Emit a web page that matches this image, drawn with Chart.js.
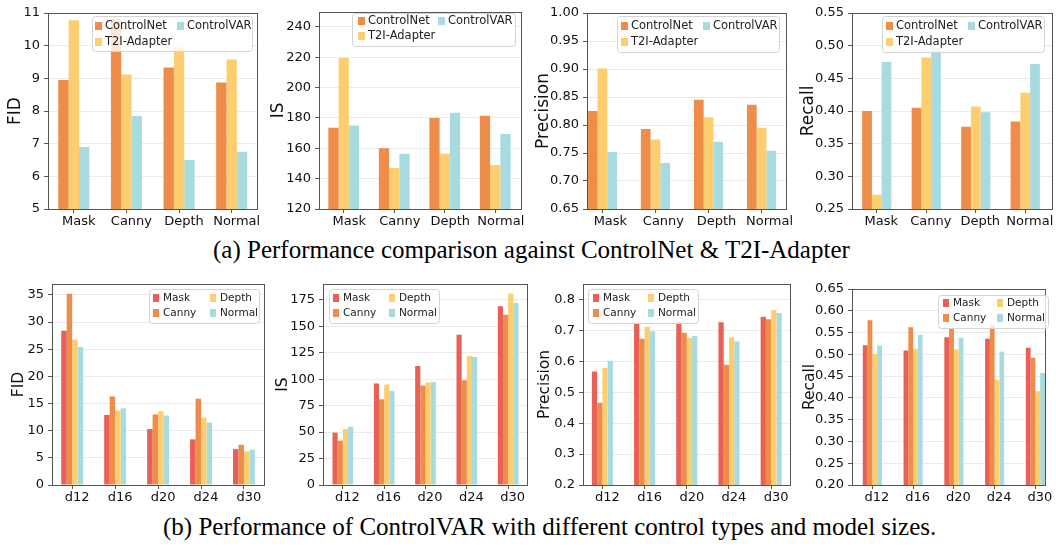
<!DOCTYPE html>
<html>
<head>
<meta charset="utf-8">
<script src="https://cdn.jsdelivr.net/npm/chart.js@4.4.1/dist/chart.umd.min.js"></script>
<style>
  body { margin: 0; width: 1056px; height: 548px; background: #fff; position: relative; overflow: hidden; }
  .cap { position: absolute; font-family: "Liberation Serif", "Times New Roman", serif; font-size: 25px; color: #000; white-space: nowrap; line-height: 25px; }
</style>
</head>
<body>
<div class="cap" style="left:213px; top:237px;">(a) Performance comparison against ControlNet &amp; T2I-Adapter</div>
<div class="cap" style="left:163px; top:514px;">(b) Performance of ControlVAR with different control types and model sizes.</div>

<script>
// categories
var controlTypes = ["Mask", "Canny", "Depth", "Normal"];
var methods = ["ControlNet", "T2I-Adapter", "ControlVAR"];
var modelSizes = ["d12", "d16", "d20", "d24", "d30"];

// (a) comparison against ControlNet / T2I-Adapter, one value per control type
var fidControlNet = [8.95, 10.82, 9.33, 8.87];
var fidT2I = [10.78, 9.12, 9.95, 9.58];
var fidControlVAR = [6.9, 7.85, 6.5, 6.75];

var isControlNet = [173.5, 160, 180, 181.5];
var isT2I = [219.5, 147, 156.5, 149];
var isControlVAR = [175, 156.5, 183.5, 169.5];

var precControlNet = [0.825, 0.793, 0.845, 0.836];
var precT2I = [0.901, 0.774, 0.814, 0.795];
var precControlVAR = [0.752, 0.732, 0.770, 0.754];

var recControlNet = [0.400, 0.405, 0.376, 0.384];
var recT2I = [0.272, 0.482, 0.407, 0.428];
var recControlVAR = [0.475, 0.497, 0.398, 0.472];

// (b) ControlVAR per control type, one value per model size
var fidMask = [28.4, 12.9, 10.3, 8.4, 6.6];
var fidCanny = [35.2, 16.3, 13.0, 15.9, 7.4];
var fidDepth = [26.8, 13.7, 13.6, 12.4, 6.2];
var fidNormal = [25.4, 14.1, 12.8, 11.5, 6.5];

var isMask = [49.5, 96, 112.5, 142, 169];
var isCanny = [42, 81, 94, 99, 161];
var isDepth = [53, 95, 97, 122, 181];
var isNormal = [55, 89, 97.5, 121, 172];

var precMask = [0.567, 0.725, 0.728, 0.726, 0.744];
var precCanny = [0.466, 0.673, 0.692, 0.589, 0.736];
var precDepth = [0.578, 0.712, 0.675, 0.678, 0.766];
var precNormal = [0.602, 0.697, 0.682, 0.664, 0.756];

var recMask = [0.521, 0.509, 0.539, 0.536, 0.515];
var recCanny = [0.578, 0.562, 0.560, 0.568, 0.492];
var recDepth = [0.501, 0.512, 0.511, 0.441, 0.415];
var recNormal = [0.520, 0.545, 0.538, 0.506, 0.457];

var RED = 'rgb(232,97,86)';
var ORANGE = 'rgb(238,140,74)';
var YELLOW = 'rgb(253,206,112)';
var TEAL = 'rgb(168,219,223)';

// matplotlib-like frame + legend box drawn on top of bars
var frameLegend = {
  id: 'frameLegend',
  afterDraw: function (chart, args, opts) {
    var ctx = chart.ctx, a = chart.chartArea;
    ctx.save();
    ctx.strokeStyle = '#555';
    ctx.lineWidth = 1;
    ctx.strokeRect(Math.round(a.left) + 0.5, Math.round(a.top) + 0.5,
      Math.round(a.right - a.left) - 1, Math.round(a.bottom - a.top));

    var lg = opts.legend, ox = opts.originX, oy = opts.originY, b = lg.box;
    ctx.beginPath();
    ctx.roundRect(b[0] - ox + 0.5, b[1] - oy + 0.5, b[2], b[3], 3);
    ctx.fillStyle = 'rgba(255,255,255,0.8)';
    ctx.fill();
    ctx.strokeStyle = '#d4d4d4';
    ctx.stroke();
    ctx.font = lg.size + 'px "DejaVu Sans"';
    ctx.textBaseline = 'middle';
    chart.data.datasets.forEach(function (ds, i) {
      var col = Math.floor(i / 2), row = i % 2;
      var x = lg.cols[col] - ox, y = lg.rows[row] - oy;
      ctx.fillStyle = ds.backgroundColor;
      ctx.fillRect(x, y - lg.sh / 2, lg.sw, lg.sh);
      ctx.fillStyle = '#222';
      ctx.fillText(ds.label, x + lg.tdx, y);
    });
    ctx.restore();
  }
};

function barChart(c) {
  var div = document.createElement('div');
  div.style.cssText = 'position:absolute;left:' + c.boxL + 'px;top:' + c.boxT + 'px;width:' +
    (c.boxR - c.boxL) + 'px;height:' + (c.boxB - c.boxT) + 'px';
  var canvas = document.createElement('canvas');
  div.appendChild(canvas);
  document.body.appendChild(div);

  var yw = c.plot[0] - c.boxL;
  var xh = c.boxB - c.plot[3];
  var lh = Math.round(c.titleSize * 1.2);

  new Chart(canvas, {
    type: 'bar',
    data: {
      labels: c.labels,
      datasets: c.series.map(function (s, i) {
        return { label: c.names[i], data: s, backgroundColor: c.colors[i], borderWidth: 0,
          categoryPercentage: c.catPct, barPercentage: 1 };
      })
    },
    options: {
      responsive: true,
      maintainAspectRatio: false,
      animation: false,
      devicePixelRatio: 1,
      layout: { padding: { top: c.plot[1] - c.boxT, right: c.boxR - c.plot[2], left: 0, bottom: 0 } },
      plugins: {
        legend: { display: false },
        tooltip: { enabled: false },
        frameLegend: { legend: c.legend, originX: c.boxL, originY: c.boxT }
      },
      scales: {
        x: {
          offset: true,
          grid: { display: true, drawOnChartArea: false, offset: false, tickLength: 4, tickColor: '#555' },
          border: { display: false },
          ticks: { color: '#111', font: { family: 'DejaVu Sans', size: 13 }, padding: 1,
            maxRotation: 0, autoSkip: false, labelOffset: c.labelOffset },
          afterBuildTicks: function (s) {
            s._startValue = c.xRange[0];
            s._valueRange = c.xRange[1] - c.xRange[0];
          },
          afterFit: function (s) { s.height = xh; }
        },
        y: {
          min: c.yMin,
          max: c.yMax,
          grid: { color: '#ebebeb', tickLength: 4, tickColor: '#555' },
          border: { display: false },
          ticks: {
            stepSize: c.step, includeBounds: false, color: '#111', padding: 4,
            font: { family: 'DejaVu Sans', size: 13 },
            callback: function (v) { return v.toFixed(c.dec); }
          },
          title: { display: true, text: c.title, color: '#111',
            font: { family: 'DejaVu Sans', size: c.titleSize, lineHeight: 1.2 },
            padding: { top: c.titleX - c.boxL - lh / 2, bottom: 0 } },
          afterFit: function (s) { s.width = yw; }
        }
      }
    },
    plugins: [frameLegend]
  });
}

var topSeries = methods;
var topColors = [ORANGE, YELLOW, TEAL];
var botSeries = controlTypes;
var botColors = [RED, ORANGE, YELLOW, TEAL];

// ---- row (a) ----
barChart({
  labels: controlTypes, names: topSeries, colors: topColors,
  series: [fidControlNet, fidT2I, fidControlVAR],
  yMin: 5, yMax: 11, step: 1, dec: 0, title: 'FID', titleSize: 17, titleX: 15,
  boxL: 0, boxT: 0, boxR: 268, boxB: 232, plot: [48, 13, 258, 209],
  xRange: [-0.49, 3.5], catPct: 0.59, labelOffset: 5,
  legend: { box: [92, 16, 160, 35], rows: [26, 42], cols: [95, 177], tdx: 10, size: 11.5, sw: 7, sh: 8 }
});
barChart({
  labels: controlTypes, names: topSeries, colors: topColors,
  series: [isControlNet, isT2I, isControlVAR],
  yMin: 120, yMax: 250, step: 20, dec: 0, title: 'IS', titleSize: 17, titleX: 278,
  boxL: 262, boxT: 0, boxR: 532, boxB: 232, plot: [319, 6, 522, 209],
  xRange: [-0.49, 3.53], catPct: 0.61, labelOffset: 5.5,
  legend: { box: [352, 13, 163, 33], rows: [21, 36], cols: [358, 438], tdx: 10, size: 11.5, sw: 7, sh: 8 }
});
barChart({
  labels: controlTypes, names: topSeries, colors: topColors,
  series: [precControlNet, precT2I, precControlVAR],
  yMin: 0.65, yMax: 1.0, step: 0.05, dec: 2, title: 'Precision', titleSize: 17, titleX: 543,
  boxL: 526, boxT: 0, boxR: 800, boxB: 232, plot: [587, 13, 787, 209],
  xRange: [-0.29, 3.48], catPct: 0.55, labelOffset: 8,
  legend: { box: [617, 16, 162, 36], rows: [26, 42], cols: [621, 703], tdx: 10, size: 11.5, sw: 7, sh: 8 }
});
barChart({
  labels: controlTypes, names: topSeries, colors: topColors,
  series: [recControlNet, recT2I, recControlVAR],
  yMin: 0.25, yMax: 0.55, step: 0.05, dec: 2, title: 'Recall', titleSize: 17, titleX: 808,
  boxL: 791, boxT: 0, boxR: 1056, boxB: 232, plot: [852, 13, 1053, 209],
  xRange: [-0.5, 3.56], catPct: 0.59, labelOffset: 4.5,
  legend: { box: [882, 16, 162, 36], rows: [26, 42], cols: [886, 968], tdx: 10, size: 11.5, sw: 7, sh: 8 }
});

// ---- row (b) ----
barChart({
  labels: modelSizes, names: botSeries, colors: botColors,
  series: [fidMask, fidCanny, fidDepth, fidNormal],
  yMin: 0, yMax: 37, step: 5, dec: 0, title: 'FID', titleSize: 15.5, titleX: 19,
  boxL: 0, boxT: 270, boxR: 275, boxB: 514, plot: [52, 284, 265, 485],
  xRange: [-0.47, 4.49], catPct: 0.51, labelOffset: 5,
  legend: { box: [149, 289, 110, 34], rows: [298, 313], cols: [153, 210], tdx: 10, size: 10.5, sw: 6, sh: 8 }
});
barChart({
  labels: modelSizes, names: botSeries, colors: botColors,
  series: [isMask, isCanny, isDepth, isNormal],
  yMin: 0, yMax: 190, step: 25, dec: 0, title: 'IS', titleSize: 15.5, titleX: 283,
  boxL: 268, boxT: 270, boxR: 538, boxB: 514, plot: [323, 284, 528, 485],
  xRange: [-0.48, 4.48], catPct: 0.5, labelOffset: 4.5,
  legend: { box: [329, 289, 110, 34], rows: [298, 313], cols: [333, 389], tdx: 10, size: 10.5, sw: 6, sh: 8 }
});
barChart({
  labels: modelSizes, names: botSeries, colors: botColors,
  series: [precMask, precCanny, precDepth, precNormal],
  yMin: 0.2, yMax: 0.85, step: 0.1, dec: 1, title: 'Precision', titleSize: 15.5, titleX: 545,
  boxL: 531, boxT: 270, boxR: 801, boxB: 514, plot: [583, 284, 791, 485],
  xRange: [-0.46, 4.47], catPct: 0.5, labelOffset: 5,
  legend: { box: [588, 289, 110, 34], rows: [298, 313], cols: [593, 648], tdx: 10, size: 10.5, sw: 6, sh: 8 }
});
barChart({
  labels: modelSizes, names: botSeries, colors: botColors,
  series: [recMask, recCanny, recDepth, recNormal],
  yMin: 0.2, yMax: 0.65, step: 0.05, dec: 2, title: 'Recall', titleSize: 15.5, titleX: 810,
  boxL: 795, boxT: 270, boxR: 1056, boxB: 514, plot: [852, 289, 1046, 485],
  xRange: [-0.5, 4.26], catPct: 0.47, labelOffset: 4.5,
  legend: { box: [938, 295, 110, 33], rows: [303, 318], cols: [943, 997], tdx: 10, size: 10.5, sw: 6, sh: 8 }
});
</script>
</body>
</html>
